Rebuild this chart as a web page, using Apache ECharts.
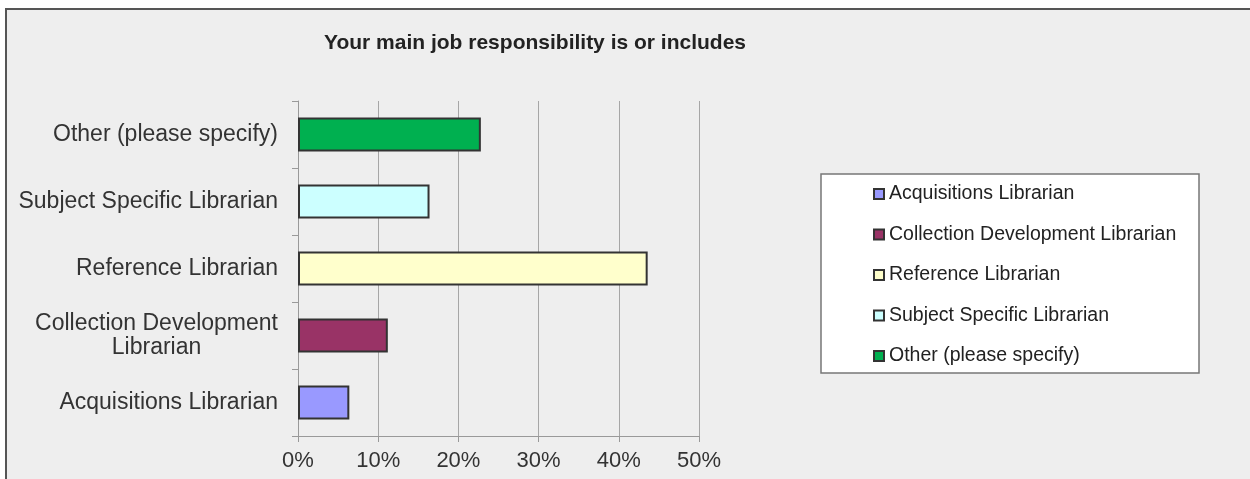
<!DOCTYPE html>
<html>
<head>
<meta charset="utf-8">
<script src="https://cdn.jsdelivr.net/npm/echarts@6/dist/echarts.min.js"></script>
<style>
  html, body { margin: 0; padding: 0; background: #ffffff; }
  #frame { position: absolute; left: 5px; top: 8px; width: 1260px; height: 490px; background: #eeeeee; border-top: 2px solid #555555; border-left: 2px solid #555555; }
  #chart { position: absolute; left: 0; top: 0; width: 1250px; height: 479px; }
</style>
</head>
<body>
<div id="frame"></div>
<div id="chart"></div>
<script>
const titleText = 'Your main job responsibility is or includes';
const categories = ['Acquisitions Librarian', 'Collection Development Librarian', 'Reference Librarian', 'Subject Specific Librarian', 'Other (please specify)'];
const axisLabels = ['Acquisitions Librarian', 'Collection Development\nLibrarian', 'Reference Librarian', 'Subject Specific Librarian', 'Other (please specify)'];
const values = [6.4, 11.2, 43.6, 16.4, 22.8];
const colors = ['#9999ff', '#993366', '#ffffcc', '#ccffff', '#00b050'];
const xTicks = [0, 10, 20, 30, 40, 50];

const FONT = "'Liberation Sans', Arial, sans-serif";
const chart = echarts.init(document.getElementById('chart'), null, { renderer: 'canvas' });

const series = categories.map((name, i) => ({
  name: name,
  type: 'bar',
  barWidth: 34,
  barGap: '-100%',
  itemStyle: { color: colors[i], borderColor: '#333333', borderWidth: 2 },
  data: categories.map((c, j) => (j === i ? values[i] : '-')),
  animation: false
}));

chart.setOption({
  animation: false,
  backgroundColor: 'transparent',
  title: {
    text: titleText,
    left: 530,
    top: 28,
    textAlign: 'center',
    textStyle: { fontFamily: FONT, fontSize: 21, fontWeight: 'bold', color: '#222222' }
  },
  grid: { left: 298, right: 551, top: 101, bottom: 43, containLabel: false },
  graphic: [{
    type: 'rect',
    shape: { x: 821, y: 174, width: 378, height: 199 },
    style: { fill: '#ffffff', stroke: '#777777', lineWidth: 1.5 },
    z: -1
  }],
  legend: {
    orient: 'vertical',
    left: 873,
    top: 184,
    padding: 0,
    itemGap: 20.5,
    itemWidth: 10,
    itemHeight: 10,
    icon: 'rect',
    data: categories,
    textStyle: { fontFamily: FONT, fontSize: 19.5, color: '#222222' }
  },
  xAxis: {
    type: 'value',
    min: xTicks[0],
    max: xTicks[xTicks.length - 1],
    interval: xTicks[1] - xTicks[0],
    axisLine: { show: true, lineStyle: { color: '#999999', width: 1 } },
    axisTick: { show: true, length: 6, lineStyle: { color: '#999999' } },
    splitLine: { show: true, lineStyle: { color: '#a6a6a6', width: 1 } },
    axisLabel: { formatter: '{value}%', fontFamily: FONT, fontSize: 22, color: '#333333', margin: 14 }
  },
  yAxis: {
    type: 'category',
    data: categories,
    axisLine: { show: true, lineStyle: { color: '#999999', width: 1 } },
    axisTick: { show: true, length: 6, lineStyle: { color: '#999999' } },
    splitLine: { show: false },
    axisLabel: {
      margin: 20,
      fontFamily: FONT,
      fontSize: 23,
      color: '#333333',
      formatter: function (v, i) {
        return axisLabels[i].split('\n').map(s => '{c|' + s + '}').join('\n');
      },
      rich: {
        c: { align: 'center', fontFamily: FONT, fontSize: 23, color: '#333333', lineHeight: 24 }
      }
    }
  },
  series: series
});
</script>
</body>
</html>
